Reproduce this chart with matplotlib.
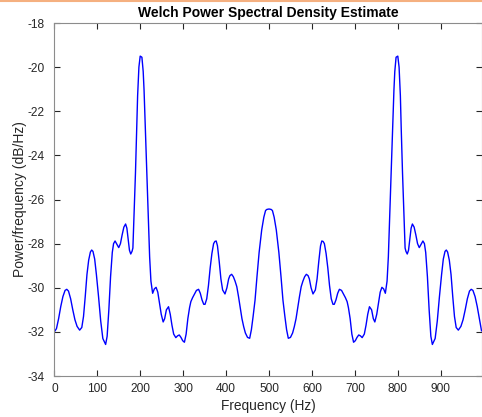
#!/usr/bin/env python3
"""Welch PSD estimate, redrawn from a MATLAB figure."""

import matplotlib

matplotlib.use("Agg")
import matplotlib.pyplot as plt
from matplotlib.lines import Line2D

plt.rcParams["font.family"] = ["Liberation Sans", "DejaVu Sans"]
plt.rcParams["axes.unicode_minus"] = False

# Values (Hz, dB/Hz)
freq_hz = [
    0, 5, 10, 15, 20, 25, 29, 33, 38, 43, 48, 53, 59, 64, 68, 72, 76, 80, 84, 87,
    90, 94, 98, 103, 108, 113, 119.5, 123, 127, 131, 135, 138, 141.5, 145, 150,
    154, 158, 162, 166, 169, 172, 175, 178, 181, 183, 186, 189, 192, 194, 197,
    200, 204, 207, 209, 212, 215.5, 219, 222, 225, 229, 233, 237, 241, 245, 249,
    253.5, 257, 261, 266, 270, 274, 278, 283, 287, 291, 295, 299, 303, 307, 311,
    315, 318, 322, 326, 331, 336, 340, 344, 348, 351, 355, 359, 363, 367, 371,
    374, 377, 380, 384, 388, 392, 397.5, 402, 406, 409, 413, 417, 421, 425, 429,
    433, 437, 441, 445, 450, 455, 459, 463, 467.5, 472, 477, 483, 488, 492, 495,
    500, 505, 508, 512, 517, 523, 528, 532.5, 537, 541, 545, 550, 555, 559, 563,
    567, 571, 575, 579, 583, 587, 591, 594, 598, 602.5, 608, 612, 616, 620, 623,
    626, 629, 633, 637, 641, 645, 649, 652, 656, 660, 664, 669, 674, 678, 682,
    685, 689, 693, 697, 701, 705, 709, 713, 717, 722, 726, 730, 734, 739, 743,
    746.5, 751, 755, 759, 763, 767, 771, 775, 778, 781, 784.5, 788, 791, 793,
    796, 800, 803, 806, 808, 811, 814, 817, 819, 822, 825, 828, 831, 834, 838,
    842, 846, 850, 855, 858.5, 862, 865, 869, 873, 877, 880.5, 887, 892, 897,
    902, 906, 910, 913, 916, 920, 924, 928, 932, 936, 941, 947, 952, 957, 962,
    967, 971, 975, 980, 985, 990, 995,
]
psd_db = [
    -32.0, -31.85, -31.4, -30.85, -30.4, -30.12, -30.07, -30.15, -30.5, -31.0,
    -31.45, -31.75, -31.92, -31.8, -31.3, -30.4, -29.4, -28.75, -28.38, -28.29,
    -28.35, -28.7, -29.4, -30.4, -31.5, -32.3, -32.57, -32.2, -31.0, -29.5,
    -28.4, -28.0, -27.88, -28.0, -28.18, -28.0, -27.6, -27.25, -27.11, -27.3,
    -27.8, -28.3, -28.47, -28.35, -28.2, -26.5, -24.8, -22.8, -21.3, -20.0,
    -19.5, -19.55, -20.2, -21.04, -22.8, -24.8, -26.8, -28.6, -29.7, -30.25,
    -30.05, -29.98, -30.2, -30.7, -31.2, -31.55, -31.4, -31.0, -30.86, -31.2,
    -31.7, -32.1, -32.26, -32.18, -32.14, -32.25, -32.4, -32.47, -32.1, -31.4,
    -30.9, -30.63, -30.45, -30.3, -30.12, -30.07, -30.25, -30.55, -30.75,
    -30.75, -30.5, -29.9, -29.1, -28.45, -28.0, -27.9, -27.88, -28.1, -28.8,
    -29.6, -30.1, -30.28, -30.0, -29.6, -29.45, -29.39, -29.5, -29.7, -29.95,
    -30.4, -30.9, -31.4, -31.76, -32.05, -32.25, -32.29, -31.9, -31.3, -30.56,
    -29.5, -28.4, -27.38, -26.8, -26.5, -26.45, -26.43,
    -26.45, -26.5, -26.8, -27.38, -28.4, -29.5, -30.56, -31.3, -31.9, -32.29,
    -32.25, -32.05, -31.76, -31.4, -30.9, -30.4, -29.95, -29.7, -29.5, -29.39,
    -29.45, -29.6, -30.0, -30.28, -30.1, -29.6, -28.8, -28.1, -27.88, -27.9,
    -28.0, -28.45, -29.1, -29.9, -30.5, -30.75, -30.75, -30.55, -30.25, -30.07,
    -30.12, -30.3, -30.45, -30.63, -30.9, -31.4, -32.1, -32.47, -32.4, -32.25,
    -32.14, -32.18, -32.26, -32.1, -31.7, -31.2, -30.86, -31.0, -31.4, -31.55,
    -31.2, -30.7, -30.2, -29.98, -30.05, -30.25, -29.7, -28.6, -26.8, -24.8,
    -22.8, -21.04, -20.2, -19.55, -19.5, -20.0, -21.3, -22.8, -24.8, -26.5,
    -28.2, -28.35, -28.47, -28.3, -27.8, -27.3, -27.11, -27.25, -27.6, -28.0,
    -28.18, -28.0, -27.88, -28.0, -28.4, -29.5, -31.0, -32.2, -32.57, -32.3,
    -31.5, -30.4, -29.4, -28.7, -28.35, -28.29, -28.38, -28.75, -29.4, -30.4,
    -31.3, -31.8, -31.92, -31.75, -31.45, -31.0, -30.5, -30.15, -30.07, -30.12,
    -30.4, -30.85, -31.4, -31.95,
]
x_ticks = [0, 100, 200, 300, 400, 500, 600, 700, 800, 900]
y_ticks = [-34, -32, -30, -28, -26, -24, -22, -20, -18]

fig = plt.figure(figsize=(4.82, 4.17), dpi=100)
ax = fig.add_axes([0.1127, 0.0983, 0.8863, 0.8465])

ax.plot(freq_hz, psd_db, color="#0000ff", linewidth=1.0)

ax.set_xlim(0, 995)
ax.set_ylim(-34, -18)
ax.set_xticks(x_ticks)
ax.set_yticks(y_ticks)
ax.tick_params(direction="in", length=4, width=0.8, colors="#262626",
               labelsize=8.6, top=True, right=True)
ax.tick_params(axis="x", pad=5)
ax.tick_params(axis="y", pad=7)
for side in ["left", "bottom", "top", "right"]:
    ax.spines[side].set_color("#8c8c8c")
    ax.spines[side].set_linewidth(0.8)

ax.set_xlabel("Frequency (Hz)", fontsize=9.9, color="#262626", labelpad=3)
ax.set_ylabel("Power/frequency (dB/Hz)", fontsize=10, color="#262626", labelpad=0)
ax.set_title("Welch Power Spectral Density Estimate", fontsize=10,
             fontweight="bold", color="black", pad=4.5)

# thin orange strip along the very top of the screenshot
fig.add_artist(Line2D([0, 1], [0.998, 0.998], transform=fig.transFigure,
                      color="#f5b080", linewidth=1.5))

fig.savefig("out.png", dpi=100)
